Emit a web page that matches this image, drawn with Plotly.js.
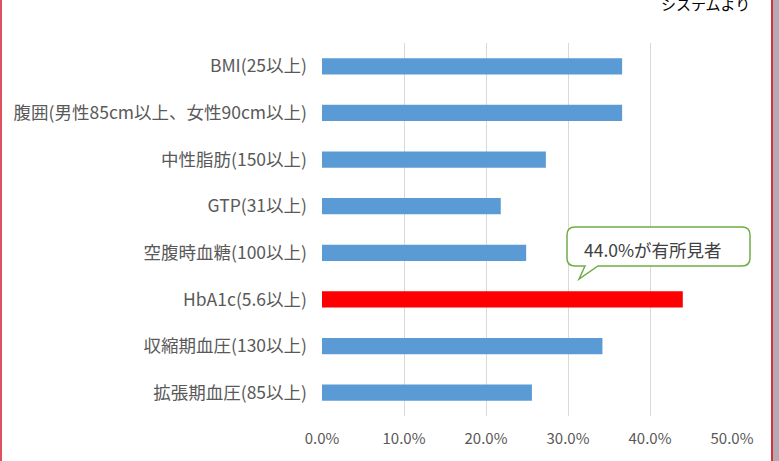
<!DOCTYPE html>
<html>
<head>
<meta charset="utf-8">
<script src="https://cdn.plot.ly/plotly-3.0.1.min.js"></script>
<style>
html,body{margin:0;padding:0;background:#fff;overflow:hidden;}
#chart{width:779px;height:461px;}
</style>
</head>
<body>
<div id="chart"></div>
<script>
// Data
const categories = [
  "BMI(25以上)",
  "腹囲(男性85cm以上、女性90cm以上)",
  "中性脂肪(150以上)",
  "GTP(31以上)",
  "空腹時血糖(100以上)",
  "HbA1c(5.6以上)",
  "収縮期血圧(130以上)",
  "拡張期血圧(85以上)"
];
const values = [0.366, 0.366, 0.273, 0.218, 0.249, 0.440, 0.342, 0.256];
const highlight = "HbA1c(5.6以上)";
const tickVals = [0, 0.1, 0.2, 0.3, 0.4, 0.5];
const tickText = ["0.0%", "10.0%", "20.0%", "30.0%", "40.0%", "50.0%"];
const calloutText = "44.0%が有所見者";
const sourceText = "システムより";

// Layout geometry (pixels)
const FW = 779, FH = 461;
const L = 322, R = 47, T = 43, B = 45;
const PW = FW - L - R, PH = FH - T - B;
const px = p => (p - L) / PW;
const py = p => 1 - (p - T) / PH;

const colors = categories.map(c => c === highlight ? "#ff0000" : "#5b9bd5");

// callout path (rounded rect with tail) in paper coords
function calloutPath() {
  const x0 = 567, x1 = 750, y0 = 227, y1 = 266, r = 8;
  const tx = 579, ty = 279, t1 = 598, t2 = 585;
  const P = (x, y) => px(x).toFixed(5) + "," + py(y).toFixed(5);
  return "M" + P(x0 + r, y0) +
    " L" + P(x1 - r, y0) +
    " Q" + P(x1, y0) + " " + P(x1, y0 + r) +
    " L" + P(x1, y1 - r) +
    " Q" + P(x1, y1) + " " + P(x1 - r, y1) +
    " L" + P(t1, y1) +
    " L" + P(tx, ty) +
    " L" + P(t2, y1) +
    " L" + P(x0 + r, y1) +
    " Q" + P(x0, y1) + " " + P(x0, y1 - r) +
    " L" + P(x0, y0 + r) +
    " Q" + P(x0, y0) + " " + P(x0 + r, y0) + " Z";
}

const FONT = '"Noto Sans CJK JP", "Noto Sans", sans-serif';

const trace = {
  type: "bar",
  orientation: "h",
  y: categories,
  x: values,
  marker: {color: colors},
  hoverinfo: "skip"
};

const layout = {
  width: FW,
  height: FH,
  margin: {l: L, r: R, t: T, b: B, pad: 0},
  paper_bgcolor: "#ffffff",
  plot_bgcolor: "#ffffff",
  showlegend: false,
  bargap: 0.65,
  font: {family: FONT, size: 14, color: "#595959"},
  xaxis: {
    range: [0, 0.5],
    tickvals: tickVals,
    ticktext: tickText,
    showgrid: true,
    gridcolor: "#d9d9d9",
    gridwidth: 1,
    zeroline: false,
    showline: false,
    ticks: "",
    ticklabelstandoff: 12,
    tickfont: {family: FONT, size: 15, color: "#595959"},
    fixedrange: true
  },
  yaxis: {
    autorange: "reversed",
    showgrid: false,
    zeroline: false,
    showline: false,
    ticks: "",
    ticklabelstandoff: 14,
    tickfont: {family: FONT, size: 17.5, color: "#595959"},
    fixedrange: true
  },
  shapes: [
    {type: "path", xref: "paper", yref: "paper", path: calloutPath(),
     fillcolor: "#ffffff", line: {color: "#70ad47", width: 1.5}},
    {type: "rect", xref: "paper", yref: "paper",
     x0: px(0), x1: px(2), y0: py(0), y1: py(FH), fillcolor: "#e05060", line: {width: 0}},
    {type: "rect", xref: "paper", yref: "paper",
     x0: px(771), x1: px(773), y0: py(0), y1: py(FH), fillcolor: "#d8303c", line: {width: 0}},
    {type: "rect", xref: "paper", yref: "paper",
     x0: px(773), x1: px(FW), y0: py(0), y1: py(FH), fillcolor: "#b4aab4", line: {width: 0}}
  ],
  annotations: [
    {xref: "paper", yref: "paper", x: px(653), y: py(249), text: calloutText,
     showarrow: false, xanchor: "center", yanchor: "middle",
     font: {family: FONT, size: 17.5, color: "#404040"}},
    {xref: "paper", yref: "paper", x: px(705), y: py(4), text: sourceText,
     showarrow: false, xanchor: "center", yanchor: "middle",
     font: {family: FONT, size: 15, color: "#000000"}}
  ]
};

Plotly.newPlot("chart", [trace], layout, {displayModeBar: false, staticPlot: true});
</script>
</body>
</html>
